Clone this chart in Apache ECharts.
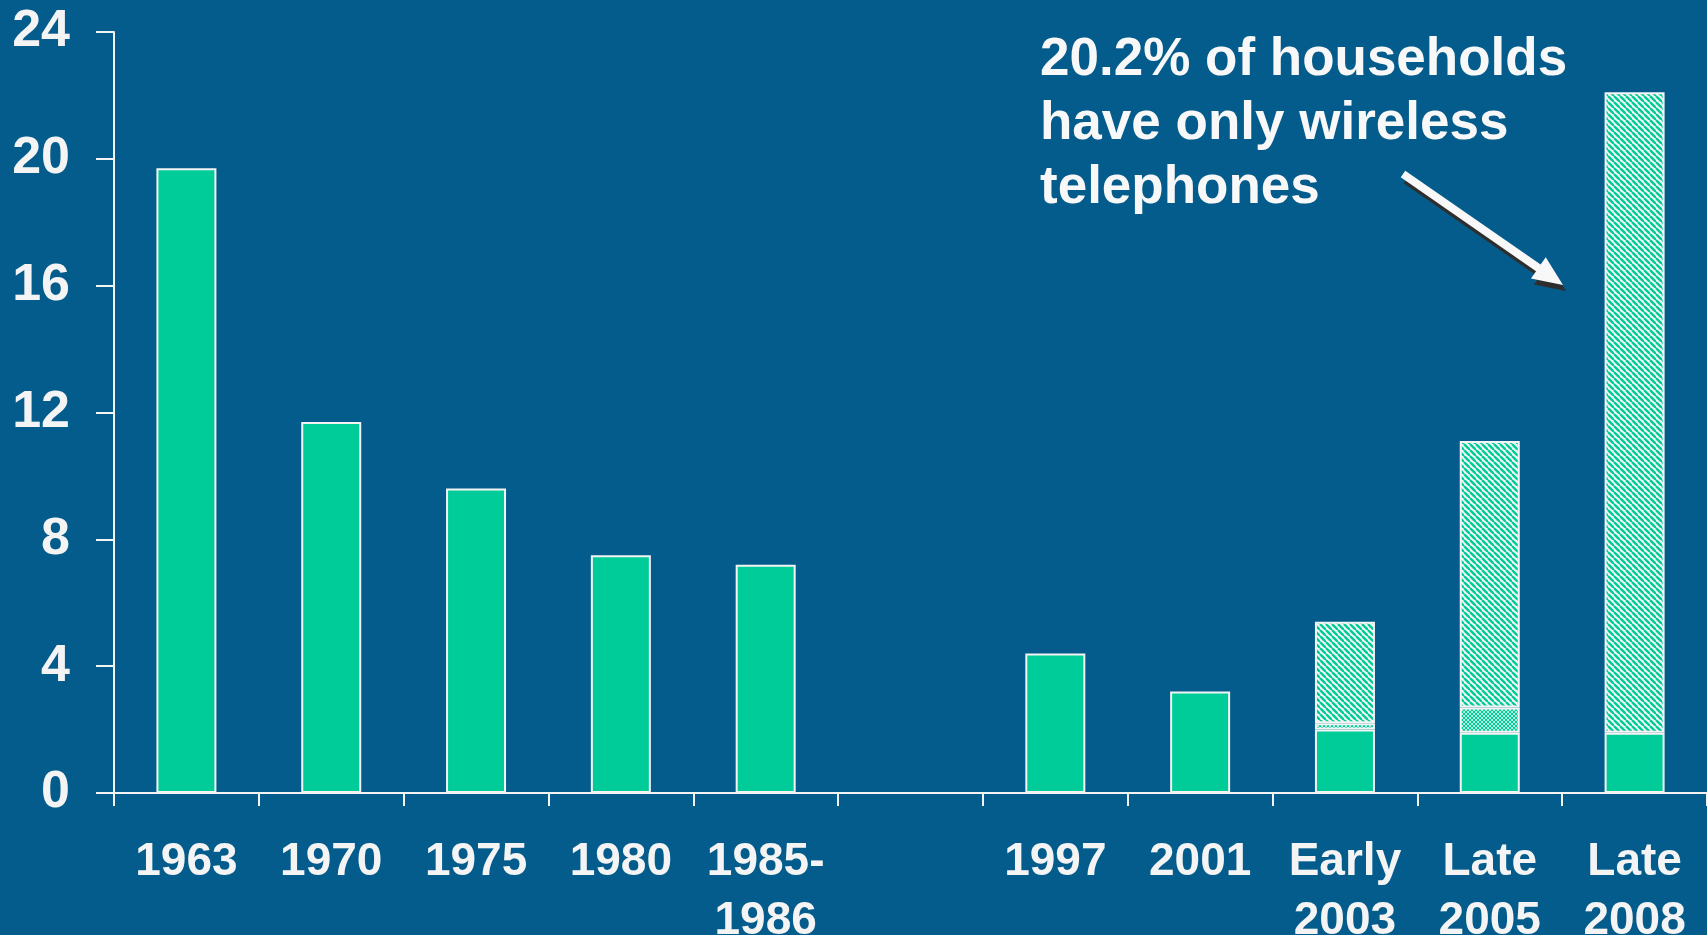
<!DOCTYPE html>
<html>
<head>
<meta charset="utf-8">
<script src="https://cdn.jsdelivr.net/npm/echarts@6/dist/echarts.min.js"></script>
<style>
html,body{margin:0;padding:0;background:#035c8c;}
#chart{width:1707px;height:935px;}
</style>
</head>
<body>
<div id="chart"></div>
<script>
// ---- data ----
const categories = ['1963','1970','1975','1980','1985-\n1986','','1997','2001','Early\n2003','Late\n2005','Late\n2008'];
const noTelephone = [19.7, 11.7, 9.6, 7.5, 7.2, null, 4.4, 3.2, 2.0, 1.9, 1.9];
const mixedService = [null, null, null, null, null, null, null, null, 0.2, 0.8, null];
const wirelessOnly = [null, null, null, null, null, null, null, null, 3.2, 8.4, 20.2];
const yTicks = [0, 4, 8, 12, 16, 20, 24];
const annotation = '20.2% of households\nhave only wireless\ntelephones';

const GREEN = '#00cc99';
const WHITE = '#f4f4f4';
const FONT = '"Liberation Sans", Arial, sans-serif';

function hatchPattern() {
  const s = 6;
  const c = document.createElement('canvas');
  c.width = s; c.height = s;
  const g = c.getContext('2d');
  g.fillStyle = WHITE; g.fillRect(0, 0, s, s);
  g.strokeStyle = GREEN; g.lineWidth = 2.4;
  for (const k of [-s, 0, s]) {
    g.beginPath(); g.moveTo(k, 0); g.lineTo(k + s, s); g.stroke();
  }
  return c;
}
function crossPattern() {
  const s = 4;
  const c = document.createElement('canvas');
  c.width = s; c.height = s;
  const g = c.getContext('2d');
  g.fillStyle = GREEN; g.fillRect(0, 0, s, s);
  g.strokeStyle = 'rgba(240,250,245,0.75)'; g.lineWidth = 1;
  for (const k of [-s, 0, s]) {
    g.beginPath(); g.moveTo(k, 0); g.lineTo(k + s, s); g.stroke();
    g.beginPath(); g.moveTo(k + s, 0); g.lineTo(k, s); g.stroke();
  }
  return c;
}

const chart = echarts.init(document.getElementById('chart'));

// arrow annotation polygon
function arrowPoints(x1, y1, x2, y2, shaftHalf, headLen, headHalf) {
  const dx = x2 - x1, dy = y2 - y1, L = Math.hypot(dx, dy);
  const ux = dx / L, uy = dy / L, px = -uy, py = ux;
  const bx = x2 - ux * headLen, by = y2 - uy * headLen;
  return [
    [x1 + px * shaftHalf, y1 + py * shaftHalf],
    [bx + px * shaftHalf, by + py * shaftHalf],
    [bx + px * headHalf, by + py * headHalf],
    [x2, y2],
    [bx - px * headHalf, by - py * headHalf],
    [bx - px * shaftHalf, by - py * shaftHalf],
    [x1 - px * shaftHalf, y1 - py * shaftHalf]
  ];
}
const arrowPts = arrowPoints(1403, 174, 1563, 285, 4, 30, 13);
const shadowPts = arrowPts.map(p => [p[0] + 3, p[1] + 6]);

const barCommon = {
  type: 'bar',
  stack: 'total',
  barWidth: 60,
  emphasis: { disabled: true },
  silent: true
};

chart.setOption({
  backgroundColor: '#035c8c',
  animation: false,
  grid: { left: 114, right: 0, top: 32, bottom: 142, containLabel: false, outerBoundsMode: 'none' },
  xAxis: {
    type: 'category',
    data: categories,
    boundaryGap: true,
    axisLine: { show: true, lineStyle: { color: WHITE, width: 2 } },
    axisTick: { show: true, length: 13, interval: 0, lineStyle: { color: WHITE, width: 2 } },
    axisLabel: {
      interval: 0, color: WHITE, fontFamily: FONT, fontWeight: 'bold',
      fontSize: 46, lineHeight: 59, margin: 40
    },
    splitLine: { show: false }
  },
  yAxis: {
    type: 'value',
    min: yTicks[0], max: yTicks[yTicks.length - 1], interval: 4,
    axisLine: { show: true, lineStyle: { color: WHITE, width: 2 } },
    axisTick: { show: true, length: 18, lineStyle: { color: WHITE, width: 2 } },
    axisLabel: { color: WHITE, fontFamily: FONT, fontWeight: 'bold', fontSize: 52, margin: 44 },
    splitLine: { show: false }
  },
  series: [
    Object.assign({}, barCommon, { name: 'No telephone', data: noTelephone,
      itemStyle: { color: GREEN, borderColor: WHITE, borderWidth: 2 } }),
    Object.assign({}, barCommon, { name: 'Mixed', data: mixedService,
      itemStyle: { color: { image: crossPattern(), repeat: 'repeat' }, borderColor: WHITE, borderWidth: 2 } }),
    Object.assign({}, barCommon, { name: 'Wireless only', data: wirelessOnly,
      itemStyle: { color: { image: hatchPattern(), repeat: 'repeat' }, borderColor: WHITE, borderWidth: 2 } })
  ],
  graphic: [
    { type: 'polygon', shape: { points: shadowPts }, style: { fill: '#2e2e2e' }, silent: true, z: 10 },
    { type: 'polygon', shape: { points: arrowPts }, style: { fill: '#f8f8f8' }, silent: true, z: 11 },
    {
      type: 'text', left: 1040, top: 28, z: 12, silent: true,
      style: {
        text: annotation, fill: '#f8f8f8', font: 'bold 53px ' + FONT,
        lineHeight: 64,
        textShadowColor: '#1e1e1e', textShadowOffsetX: 3, textShadowOffsetY: 3, textShadowBlur: 0
      }
    }
  ]
});
</script>
</body>
</html>
